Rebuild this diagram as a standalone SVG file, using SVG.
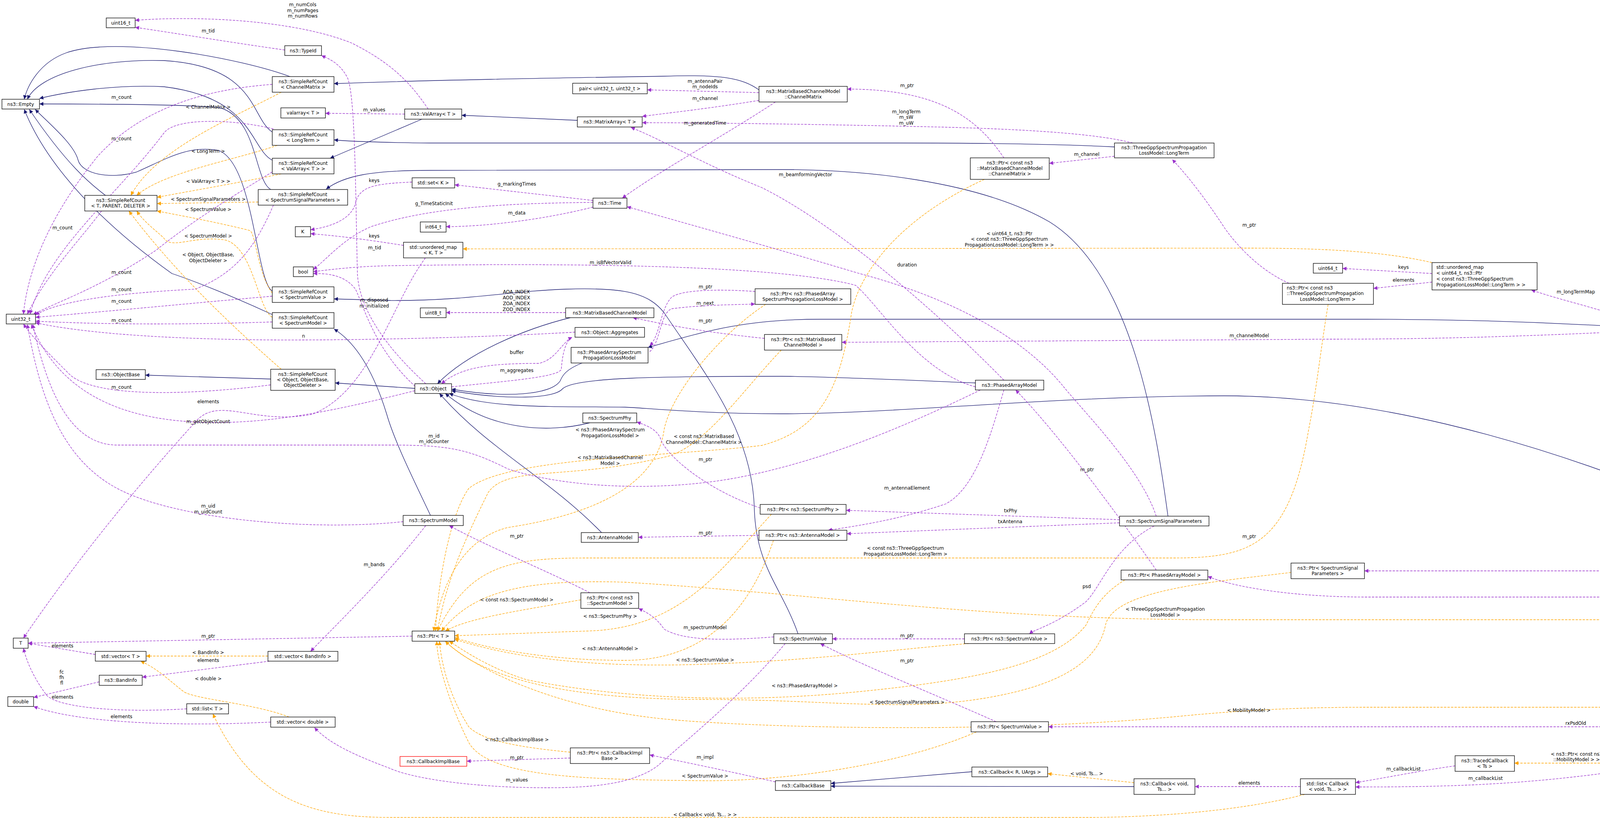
<svg xmlns="http://www.w3.org/2000/svg" width="5400" height="2096" viewBox="0 0 5400 2096">
<style>
.n rect{fill:#fff;stroke:#000;stroke-width:1.3}
text{font-family:"DejaVu Sans","Liberation Sans",sans-serif;font-size:12px;fill:#000}
.n text{text-anchor:middle}
.l{text-anchor:middle}
.e path{fill:none;stroke-width:1.3}
.i{stroke:#191970}
.u{stroke:#9a32cd;stroke-dasharray:6,3}
.t{stroke:#ffa500;stroke-dasharray:6,3}
</style>
<defs>
<marker id="ai" viewBox="0 0 10 10" refX="10" refY="5" markerWidth="12" markerHeight="10" markerUnits="userSpaceOnUse" orient="auto"><path d="M0,0L10,5L0,10z" fill="#191970"/></marker>
<marker id="au" viewBox="0 0 10 10" refX="10" refY="5" markerWidth="12" markerHeight="10" markerUnits="userSpaceOnUse" orient="auto"><path d="M0,0L10,5L0,10z" fill="#9a32cd"/></marker>
<marker id="at" viewBox="0 0 10 10" refX="10" refY="5" markerWidth="12" markerHeight="10" markerUnits="userSpaceOnUse" orient="auto"><path d="M0,0L10,5L0,10z" fill="#ffa500"/></marker>
</defs>
<rect width="5400" height="2096" fill="#fff"/>
<g class="e" id="edges">
<g class="i" marker-end="url(#ai)">
<path d="M745,197 C620,150 300,90 170,135 C100,160 70,220 62,254"/>
<path d="M697,338 C640,300 660,170 420,155 C250,150 100,190 70,254"/>
<path d="M697,410 C640,380 650,250 420,222 C300,215 170,235 101,252"/>
<path d="M693,485 C650,460 660,300 560,275 C450,266 200,266 101,266"/>
<path d="M697,745 C655,720 650,420 560,385 C480,370 420,410 350,440 C280,460 210,445 200,410 C190,370 130,320 90,280"/>
<path d="M697,805 C600,760 500,720 440,700 C300,600 130,450 62,280"/>
<path d="M270,500 C230,470 170,420 75,280"/>
<path d="M693,970 L372,960"/>
<path d="M1943,230 C1900,200 1850,190 1700,195 C1400,200 1100,205 855,214"/>
<path d="M2853,376 C2700,368 2500,366 2300,366 L1100,366 C1000,365 900,362 855,358"/>
<path d="M1080,305 L845,405"/>
<path d="M1478,308 L1182,295"/>
<path d="M2990,1321 C2960,1100 2900,700 2687,568 C2500,460 2200,434 2000,434 L1100,436 C950,436 880,450 835,484"/>
<path d="M2043,1622 C2000,1500 1935,1450 1931,1300 C1925,1100 1800,950 1700,800 C1660,750 1600,735 1450,740 C1300,745 1200,770 1000,769 L855,765"/>
<path d="M1102,1319 C1060,1230 1010,1130 990,1060 C950,930 900,870 855,842"/>
<path d="M1062,994 L858,980"/>
<path d="M1460,813 C1350,840 1200,900 1120,982"/>
<path d="M1490,929 C1450,945 1440,960 1434,975 C1410,1010 1300,1020 1156,996"/>
<path d="M1510,1082 C1400,1110 1250,1100 1140,1007"/>
<path d="M1540,1363 C1400,1220 1250,1150 1125,1007"/>
<path d="M2497,980 C2300,972 2100,963 2000,963 C1700,963 1470,965 1440,995 C1420,1020 1300,1025 1156,1000"/>
<path d="M4687,1655 C4600,1400 4400,1300 4268,1268 C3900,1120 3500,1013 3134,1013 C2700,1013 2300,1059 2000,1059 C1800,1059 1650,1044 1600,1042 C1400,1040 1250,1045 1150,1007"/>
<path d="M4130,835 C3900,822 3700,817 3500,817 L2100,817 C1900,817 1800,850 1659,889"/>
<path d="M2488,1975 L2127,2005"/>
<path d="M2903,2013 L2127,2012"/>
</g>
<g class="t" marker-end="url(#at)">
<path d="M720,236 C600,300 400,380 335,500"/>
<path d="M710,372 C600,410 420,440 350,500"/>
<path d="M720,445 C600,470 480,490 402,505"/>
<path d="M661,517 L402,521"/>
<path d="M697,750 C660,700 655,600 640,590 C560,570 480,555 402,540"/>
<path d="M697,812 C660,790 650,640 580,615 C500,600 440,640 420,610 C400,590 370,570 350,540"/>
<path d="M720,945 C600,840 450,700 330,540"/>
<path d="M686,1679 L374,1679"/>
<path d="M740,1835 C650,1800 500,1790 470,1770 C420,1730 400,1710 360,1692"/>
<path d="M3340,2033 C3200,2070 3000,2090 2800,2092 L1000,2092 C800,2092 650,2050 545,1827"/>
<path d="M2903,2003 L2682,1980"/>
<path d="M4177,1953 L3877,1953"/>
<path d="M3666,672 C3550,645 3400,635 3200,635 L1185,637"/>
<path d="M1960,779 C1850,850 1720,1000 1700,1100 C1680,1250 1500,1320 1300,1350 C1180,1380 1130,1500 1110,1615"/>
<path d="M2520,459 C2300,560 2200,700 2180,800 C2150,1000 2100,1100 1950,1140 C1700,1170 1300,1170 1200,1250 C1150,1320 1120,1500 1115,1615"/>
<path d="M2000,896 C1900,1000 1800,1150 1700,1170 C1450,1230 1300,1190 1250,1260 C1180,1400 1140,1500 1120,1615"/>
<path d="M1487,1535 C1350,1560 1200,1580 1140,1615"/>
<path d="M1975,1316 C1850,1450 1750,1610 1500,1615 L1164,1627"/>
<path d="M1980,1383 C1940,1500 1850,1690 1600,1690 C1400,1690 1250,1660 1164,1632"/>
<path d="M2480,1647 C2300,1660 2100,1690 1800,1700 C1500,1710 1300,1680 1164,1636"/>
<path d="M2880,1484 C2820,1520 2800,1560 2780,1600 C2700,1700 2500,1740 2200,1770 C1800,1810 1500,1770 1350,1740 C1250,1710 1180,1660 1150,1641"/>
<path d="M3305,1465 C3100,1490 2850,1510 2830,1600 C2810,1700 2700,1760 2500,1790 C2300,1820 2100,1790 1800,1790 C1500,1790 1250,1750 1140,1641"/>
<path d="M3400,779 C3380,900 3370,1000 3350,1100 C3300,1400 3200,1428 3000,1428 L1500,1428 C1300,1428 1200,1450 1120,1615"/>
<path d="M4586,1385 C4420,1400 4400,1500 4380,1550 C4300,1590 4200,1586 4100,1586 L3100,1586 C2500,1585 2100,1520 1600,1490 C1300,1480 1200,1530 1130,1615"/>
<path d="M2500,1873 C2300,1960 2000,2000 1800,1998 C1500,1995 1250,1990 1200,1900 C1150,1800 1120,1700 1118,1641"/>
<path d="M4960,1680 C4850,1780 4700,1810 4500,1810 L3500,1810 C3300,1810 3150,1820 3000,1835 C2500,1880 1900,1860 1700,1840 C1400,1810 1200,1700 1140,1641"/>
<path d="M1460,1925 C1300,1910 1230,1890 1200,1860 C1150,1780 1130,1700 1125,1641"/>
</g>
<g class="u" marker-end="url(#au)">
<path d="M729,128 C600,110 450,85 346,70"/>
<path d="M1096,279 C1050,210 1000,160 900,110 C750,50 500,40 346,52"/>
<path d="M1036,292 L833,290"/>
<path d="M697,216 C500,230 350,290 250,400 C120,560 70,700 60,804"/>
<path d="M700,330 C600,305 450,300 420,340 C300,500 120,640 77,804"/>
<path d="M697,440 C600,500 500,560 400,640 C250,740 150,770 85,805"/>
<path d="M700,525 C650,640 600,700 500,740 C300,750 150,770 91,806"/>
<path d="M697,758 C500,775 300,795 91,812"/>
<path d="M697,824 C500,830 300,832 91,822"/>
<path d="M260,540 C200,620 120,700 70,804"/>
<path d="M693,985 C500,1010 250,1020 180,960 C120,900 80,860 60,829"/>
<path d="M1472,850 C1300,860 1000,871 700,870 C400,868 200,850 91,826"/>
<path d="M1156,990 C1300,975 1430,965 1437,945 C1440,900 1450,870 1465,863"/>
<path d="M1462,863 C1430,890 1420,920 1380,930 C1250,930 1180,940 1130,982"/>
<path d="M1448,800 L1142,800"/>
<path d="M1663,900 C1690,880 1690,800 1720,790 C1800,780 1880,780 1933,778"/>
<path d="M1933,746 C1850,740 1750,740 1720,760 C1690,790 1690,860 1663,885"/>
<path d="M1957,866 C1800,850 1700,830 1620,813"/>
<path d="M4130,850 C3800,865 3600,868 3400,868 L2155,876"/>
<path d="M1090,982 C1000,900 920,800 915,700 C910,500 910,250 890,200 C870,160 840,150 823,142"/>
<path d="M1070,995 C960,900 930,780 910,740 C880,700 830,700 802,700"/>
<path d="M1518,518 C1300,520 1100,530 950,580 C880,610 840,660 802,690"/>
<path d="M1518,513 L1164,473"/>
<path d="M1518,530 C1400,560 1250,580 1142,580"/>
<path d="M1055,466 C950,470 920,480 910,520 C900,560 850,580 795,588"/>
<path d="M1033,628 C950,615 880,605 795,598"/>
<path d="M1089,660 C1000,780 950,1000 800,1060 C650,1090 560,1010 500,1080 C300,1300 150,1500 60,1633"/>
<path d="M1062,1000 C900,1040 700,1090 500,1080 C300,1070 150,1000 80,830"/>
<path d="M2510,998 C2300,1100 2100,1180 1900,1220 C1700,1260 1450,1250 1300,1200 C1200,1150 1150,1139 1000,1139 L300,1139 C180,1139 120,1000 84,830"/>
<path d="M1032,1335 C800,1360 450,1330 300,1250 C150,1170 100,1000 70,830"/>
<path d="M1090,1345 C1000,1460 900,1560 795,1667"/>
<path d="M244,1675 L72,1646"/>
<path d="M478,1814 C300,1825 150,1810 120,1780 C90,1740 70,1700 60,1659"/>
<path d="M690,1692 L364,1733"/>
<path d="M254,1745 L86,1785"/>
<path d="M693,1848 C450,1860 200,1850 86,1808"/>
<path d="M1055,1628 L72,1646"/>
<path d="M2010,1647 C1900,1780 1750,1900 1686,1958 C1620,2010 1500,2016 1400,2016 C1200,2016 1050,1990 1000,1967 C900,1930 840,1900 805,1862"/>
<path d="M1981,1630 C1850,1640 1750,1640 1700,1610 C1680,1580 1660,1570 1635,1557"/>
<path d="M1510,1517 C1400,1460 1250,1400 1150,1345"/>
<path d="M1946,1300 C1800,1250 1700,1160 1690,1120 C1680,1100 1660,1090 1630,1080"/>
<path d="M1943,1370 L1634,1375"/>
<path d="M2570,998 C2540,1100 2500,1250 2420,1290 C2300,1330 2200,1345 2120,1357"/>
<path d="M2866,1330 L2166,1306"/>
<path d="M2866,1338 L2168,1366"/>
<path d="M2955,1346 C2850,1400 2820,1500 2780,1540 C2700,1600 2650,1610 2635,1622"/>
<path d="M2469,1635 L2131,1635"/>
<path d="M2550,1847 C2400,1780 2200,1700 2100,1647"/>
<path d="M2960,1321 C2920,1200 2780,1060 2723,990 C2650,900 2500,780 2200,700 C2000,640 1750,570 1605,529"/>
<path d="M1985,261 C1850,350 1700,430 1593,507"/>
<path d="M1943,237 L1657,230"/>
<path d="M1943,257 C1800,280 1700,290 1644,298"/>
<path d="M2900,366 C2800,340 2600,330 2400,325 C2100,318 1800,314 1644,314"/>
<path d="M2570,404 C2500,300 2400,228 2169,228"/>
<path d="M2853,400 L2686,418"/>
<path d="M2570,973 C2400,800 2150,580 1950,480 C1800,420 1700,360 1615,326"/>
<path d="M2497,990 C2350,950 2250,780 2190,730 C2000,680 1500,672 1000,680 C900,682 850,690 802,695"/>
<path d="M2960,1459 C2850,1300 2700,1100 2600,998"/>
<path d="M3666,700 L3437,687"/>
<path d="M3666,722 L3516,738"/>
<path d="M4180,823 C4100,790 4000,770 3920,742"/>
<path d="M3300,725 C3220,690 3160,620 3134,582 C3080,500 3040,450 3001,408"/>
<path d="M4675,1374 C4600,1250 4350,950 4280,863"/>
<path d="M5270,1515 C5180,1440 5000,1410 4797,1397"/>
<path d="M5240,1515 C5100,1480 5000,1461 4900,1461 L3493,1461"/>
<path d="M5174,1528 L3500,1528 C3300,1528 3150,1500 3092,1475"/>
<path d="M5250,1541 L5020,1655"/>
<path d="M5280,1541 C5200,1700 5150,1860 5000,1860 L2684,1860"/>
<path d="M4887,1668 L4763,1668"/>
<path d="M4665,1680 C4550,1780 4400,1850 4300,1926"/>
<path d="M3725,1960 C3650,1970 3550,1990 3470,2003"/>
<path d="M4177,1969 C3900,2010 3700,2014 3470,2014"/>
<path d="M3329,2013 L3059,2013"/>
<path d="M1985,2001 C1850,1970 1750,1950 1663,1932"/>
<path d="M1460,1940 L1195,1948"/>
</g>
<g>
<text class="l" x="775" y="16">m_numCols</text><text class="l" x="775" y="31">m_numPages</text><text class="l" x="775" y="45">m_numRows</text>
<text class="l" x="533" y="83">m_tid</text>
<text class="l" x="311" y="253">m_count</text>
<text class="l" x="533" y="278">&lt; ChannelMatrix &gt;</text>
<text class="l" x="958" y="285">m_values</text>
<text class="l" x="311" y="359">m_count</text>
<text class="l" x="533" y="391">&lt; LongTerm &gt;</text>
<text class="l" x="533" y="468">&lt; ValArray&lt; T &gt; &gt;</text>
<text class="l" x="958" y="466">keys</text>
<text class="l" x="533" y="514">&lt; SpectrumSignalParameters &gt;</text>
<text class="l" x="533" y="540">&lt; SpectrumValue &gt;</text>
<text class="l" x="160" y="587">m_count</text>
<text class="l" x="533" y="608">&lt; SpectrumModel &gt;</text>
<text class="l" x="958" y="608">keys</text>
<text class="l" x="959" y="638">m_tid</text>
<text class="l" x="533" y="656">&lt; Object, ObjectBase,</text><text class="l" x="533" y="671">ObjectDeleter &gt;</text>
<text class="l" x="311" y="701">m_count</text>
<text class="l" x="311" y="745">m_count</text>
<text class="l" x="958" y="772">m_disposed</text><text class="l" x="958" y="787">m_initialized</text>
<text class="l" x="311" y="775">m_count</text>
<text class="l" x="311" y="824">m_count</text>
<text class="l" x="777" y="864">n</text>
<text class="l" x="311" y="995">m_count</text>
<text class="l" x="533" y="1032">elements</text>
<text class="l" x="533" y="1083">m_getObjectCount</text>
<text class="l" x="533" y="1299">m_uid</text><text class="l" x="533" y="1314">m_uidCount</text>
<text class="l" x="958" y="1449">m_bands</text>
<text class="l" x="533" y="1632">m_ptr</text>
<text class="l" x="160" y="1657">elements</text>
<text class="l" x="533" y="1674">&lt; BandInfo &gt;</text>
<text class="l" x="533" y="1694">elements</text>
<text class="l" x="158" y="1724">fc</text><text class="l" x="158" y="1738">fh</text><text class="l" x="158" y="1752">fl</text>
<text class="l" x="533" y="1741">&lt; double &gt;</text>
<text class="l" x="160" y="1788">elements</text>
<text class="l" x="311" y="1838">elements</text>
<text class="l" x="1805" y="212">m_antennaPair</text><text class="l" x="1805" y="226">m_nodeIds</text>
<text class="l" x="1805" y="256">m_channel</text>
<text class="l" x="1805" y="319">m_generatedTime</text>
<text class="l" x="1323" y="475">g_markingTimes</text>
<text class="l" x="1111" y="525">g_TimeStaticInit</text>
<text class="l" x="1323" y="549">m_data</text>
<text class="l" x="1563" y="676">m_isBfVectorValid</text>
<text class="l" x="2062" y="451">m_beamformingVector</text>
<text class="l" x="1322" y="751">AOA_INDEX</text><text class="l" x="1322" y="766">AOD_INDEX</text><text class="l" x="1322" y="781">ZOA_INDEX</text><text class="l" x="1322" y="796">ZOD_INDEX</text>
<text class="l" x="1806" y="738">m_ptr</text>
<text class="l" x="1805" y="780">m_next</text>
<text class="l" x="1806" y="825">m_ptr</text>
<text class="l" x="1323" y="906">buffer</text>
<text class="l" x="1323" y="952">m_aggregates</text>
<text class="l" x="1562" y="1104">&lt; ns3::PhasedArraySpectrum</text><text class="l" x="1562" y="1119">PropagationLossModel &gt;</text>
<text class="l" x="1802" y="1121">&lt; const ns3::MatrixBased</text><text class="l" x="1802" y="1136">ChannelModel::ChannelMatrix &gt;</text>
<text class="l" x="1111" y="1120">m_id</text><text class="l" x="1111" y="1134">m_idCounter</text>
<text class="l" x="1562" y="1175">&lt; ns3::MatrixBasedChannel</text><text class="l" x="1562" y="1190">Model &gt;</text>
<text class="l" x="1806" y="1180">m_ptr</text>
<text class="l" x="1323" y="1376">m_ptr</text>
<text class="l" x="1806" y="1368">m_ptr</text>
<text class="l" x="1323" y="1539">&lt; const ns3::SpectrumModel &gt;</text>
<text class="l" x="1562" y="1581">&lt; ns3::SpectrumPhy &gt;</text>
<text class="l" x="1805" y="1610">m_spectrumModel</text>
<text class="l" x="1562" y="1664">&lt; ns3::AntennaModel &gt;</text>
<text class="l" x="1805" y="1693">&lt; ns3::SpectrumValue &gt;</text>
<text class="l" x="1323" y="1897">&lt; ns3::CallbackImplBase &gt;</text>
<text class="l" x="1323" y="1943">m_ptr</text>
<text class="l" x="1805" y="1942">m_impl</text>
<text class="l" x="1323" y="2000">m_values</text>
<text class="l" x="1805" y="1990">&lt; SpectrumValue &gt;</text>
<text class="l" x="1805" y="2089">&lt; Callback&lt; void, Ts... &gt; &gt;</text>
<text class="l" x="2322" y="223">m_ptr</text>
<text class="l" x="2320" y="290">m_longTerm</text><text class="l" x="2320" y="304">m_sW</text><text class="l" x="2320" y="319">m_uW</text>
<text class="l" x="2782" y="399">m_channel</text>
<text class="l" x="2584" y="602">&lt; uint64_t, ns3::Ptr</text><text class="l" x="2584" y="616">&lt; const ns3::ThreeGppSpectrum</text><text class="l" x="2584" y="631">PropagationLossModel::LongTerm &gt; &gt;</text>
<text class="l" x="2322" y="682">duration</text>
<text class="l" x="2783" y="1206">m_ptr</text>
<text class="l" x="2322" y="1253">m_antennaElement</text>
<text class="l" x="2587" y="1311">txPhy</text>
<text class="l" x="2586" y="1339">txAntenna</text>
<text class="l" x="2318" y="1407">&lt; const ns3::ThreeGppSpectrum</text><text class="l" x="2318" y="1422">PropagationLossModel::LongTerm &gt;</text>
<text class="l" x="2782" y="1505">psd</text>
<text class="l" x="2983" y="1563">&lt; ThreeGppSpectrumPropagation</text><text class="l" x="2983" y="1578">LossModel &gt;</text>
<text class="l" x="2322" y="1631">m_ptr</text>
<text class="l" x="2322" y="1695">m_ptr</text>
<text class="l" x="2060" y="1759">&lt; ns3::PhasedArrayModel &gt;</text>
<text class="l" x="2322" y="1801">&lt; SpectrumSignalParameters &gt;</text>
<text class="l" x="2782" y="1984">&lt; void, Ts... &gt;</text>
<text class="l" x="3198" y="580">m_ptr</text>
<text class="l" x="3593" y="688">keys</text>
<text class="l" x="3593" y="721">elements</text>
<text class="l" x="4034" y="751">m_longTermMap</text>
<text class="l" x="3198" y="863">m_channelModel</text>
<text class="l" x="3198" y="1377">m_ptr</text>
<text class="l" x="4260" y="1509">rxAntenna</text><text class="l" x="4260" y="1523">txAntenna</text>
<text class="l" x="3197" y="1822">&lt; MobilityModel &gt;</text>
<text class="l" x="4034" y="1855">rxPsdOld</text>
<text class="l" x="4036" y="1934">&lt; ns3::Ptr&lt; const ns3</text><text class="l" x="4036" y="1948">::MobilityModel &gt; &gt;</text>
<text class="l" x="3593" y="1972">m_callbackList</text>
<text class="l" x="3803" y="1996">m_callbackList</text>
<text class="l" x="3198" y="2008">elements</text>
<text class="l" x="4488" y="1032">m_ptr</text>
<text class="l" x="4985" y="1390">lossModel</text>
<text class="l" x="4488" y="1456">txParams</text>
<text class="l" x="5127" y="1574">rxMob</text><text class="l" x="5127" y="1588">txMob</text>
<text class="l" x="4844" y="1664">m_ptr</text>
<text class="l" x="4488" y="1756">m_courseChangeTrace</text>
</g>
</g>
<g class="n" id="n_uint16"><rect x="272" y="46" width="74" height="25"/><text x="309" y="63">uint16_t</text></g>
<g class="n" id="n_typeid"><rect x="729" y="117" width="94" height="25"/><text x="776" y="134">ns3::TypeId</text></g>
<g class="n" id="n_srcCM"><rect x="697" y="196" width="158" height="40"/><text x="776" y="213">ns3::SimpleRefCount</text><text x="776" y="227">&lt; ChannelMatrix &gt;</text></g>
<g class="n" id="n_valarray"><rect x="719" y="276" width="114" height="26"/><text x="776" y="293">valarray&lt; T &gt;</text></g>
<g class="n" id="n_srcLT"><rect x="697" y="332" width="158" height="40"/><text x="776" y="349">ns3::SimpleRefCount</text><text x="776" y="363">&lt; LongTerm &gt;</text></g>
<g class="n" id="n_srcVA"><rect x="697" y="405" width="158" height="40"/><text x="776" y="422">ns3::SimpleRefCount</text><text x="776" y="436">&lt; ValArray&lt; T &gt; &gt;</text></g>
<g class="n" id="n_srcSSP"><rect x="661" y="485" width="229" height="40"/><text x="775" y="502">ns3::SimpleRefCount</text><text x="775" y="516">&lt; SpectrumSignalParameters &gt;</text></g>
<g class="n" id="n_empty"><rect x="5" y="254" width="96" height="25"/><text x="53" y="271">ns3::Empty</text></g>
<g class="n" id="n_srcT"><rect x="217" y="500" width="185" height="40"/><text x="309" y="517">ns3::SimpleRefCount</text><text x="309" y="531">&lt; T, PARENT, DELETER &gt;</text></g>
<g class="n" id="n_K"><rect x="756" y="580" width="39" height="26"/><text x="775" y="597">K</text></g>
<g class="n" id="n_bool"><rect x="751" y="683" width="51" height="25"/><text x="776" y="700">bool</text></g>
<g class="n" id="n_srcSV"><rect x="697" y="734" width="158" height="40"/><text x="776" y="751">ns3::SimpleRefCount</text><text x="776" y="765">&lt; SpectrumValue &gt;</text></g>
<g class="n" id="n_srcSM"><rect x="697" y="800" width="158" height="40"/><text x="776" y="817">ns3::SimpleRefCount</text><text x="776" y="831">&lt; SpectrumModel &gt;</text></g>
<g class="n" id="n_uint32"><rect x="16" y="804" width="75" height="25"/><text x="53" y="821">uint32_t</text></g>
<g class="n" id="n_objbase"><rect x="246" y="946" width="126" height="25"/><text x="309" y="963">ns3::ObjectBase</text></g>
<g class="n" id="n_srcObj"><rect x="693" y="945" width="165" height="54"/><text x="775" y="962">ns3::SimpleRefCount</text><text x="775" y="976">&lt; Object, ObjectBase,</text><text x="775" y="990">ObjectDeleter &gt;</text></g>
<g class="n" id="n_T"><rect x="34" y="1633" width="38" height="26"/><text x="53" y="1650">T</text></g>
<g class="n" id="n_vecT"><rect x="244" y="1667" width="130" height="25"/><text x="309" y="1684">std::vector&lt; T &gt;</text></g>
<g class="n" id="n_vecBI"><rect x="686" y="1667" width="179" height="25"/><text x="775" y="1684">std::vector&lt; BandInfo &gt;</text></g>
<g class="n" id="n_bandinfo"><rect x="254" y="1728" width="110" height="26"/><text x="309" y="1745">ns3::BandInfo</text></g>
<g class="n" id="n_double"><rect x="20" y="1783" width="66" height="25"/><text x="53" y="1800">double</text></g>
<g class="n" id="n_listT"><rect x="478" y="1801" width="107" height="26"/><text x="531" y="1818">std::list&lt; T &gt;</text></g>
<g class="n" id="n_vecD"><rect x="693" y="1835" width="165" height="26"/><text x="775" y="1852">std::vector&lt; double &gt;</text></g>
<g class="n" id="n_pair"><rect x="1466" y="213" width="191" height="27"/><text x="1561" y="231">pair&lt; uint32_t, uint32_t &gt;</text></g>
<g class="n" id="n_ValArray"><rect x="1036" y="279" width="146" height="26"/><text x="1109" y="296">ns3::ValArray&lt; T &gt;</text></g>
<g class="n" id="n_MatrixArray"><rect x="1478" y="299" width="166" height="26"/><text x="1561" y="316">ns3::MatrixArray&lt; T &gt;</text></g>
<g class="n" id="n_CM"><rect x="1943" y="221" width="226" height="40"/><text x="2056" y="238">ns3::MatrixBasedChannelModel</text><text x="2056" y="252">::ChannelMatrix</text></g>
<g class="n" id="n_setK"><rect x="1055" y="455" width="109" height="26"/><text x="1109" y="472">std::set&lt; K &gt;</text></g>
<g class="n" id="n_Time"><rect x="1518" y="507" width="87" height="26"/><text x="1561" y="524">ns3::Time</text></g>
<g class="n" id="n_int64"><rect x="1076" y="568" width="66" height="26"/><text x="1109" y="585">int64_t</text></g>
<g class="n" id="n_umapKT"><rect x="1033" y="620" width="152" height="40"/><text x="1109" y="637">std::unordered_map</text><text x="1109" y="651">&lt; K, T &gt;</text></g>
<g class="n" id="n_uint8"><rect x="1076" y="788" width="66" height="25"/><text x="1109" y="805">uint8_t</text></g>
<g class="n" id="n_MBCM"><rect x="1448" y="788" width="226" height="25"/><text x="1561" y="805">ns3::MatrixBasedChannelModel</text></g>
<g class="n" id="n_Aggr"><rect x="1472" y="838" width="178" height="25"/><text x="1561" y="855">ns3::Object::Aggregates</text></g>
<g class="n" id="n_PASPLM"><rect x="1462" y="889" width="197" height="40"/><text x="1560" y="906">ns3::PhasedArraySpectrum</text><text x="1560" y="920">PropagationLossModel</text></g>
<g class="n" id="n_Object"><rect x="1062" y="982" width="94" height="25"/><text x="1109" y="999">ns3::Object</text></g>
<g class="n" id="n_SpectrumPhy"><rect x="1492" y="1057" width="138" height="25"/><text x="1561" y="1074">ns3::SpectrumPhy</text></g>
<g class="n" id="n_SpectrumModel"><rect x="1032" y="1319" width="154" height="26"/><text x="1109" y="1336">ns3::SpectrumModel</text></g>
<g class="n" id="n_AntennaModel"><rect x="1488" y="1363" width="146" height="25"/><text x="1561" y="1380">ns3::AntennaModel</text></g>
<g class="n" id="n_PtrPASPLM"><rect x="1933" y="739" width="245" height="40"/><text x="2055" y="756">ns3::Ptr&lt; ns3::PhasedArray</text><text x="2055" y="770">SpectrumPropagationLossModel &gt;</text></g>
<g class="n" id="n_PtrMBCM"><rect x="1957" y="856" width="198" height="40"/><text x="2056" y="873">ns3::Ptr&lt; ns3::MatrixBased</text><text x="2056" y="887">ChannelModel &gt;</text></g>
<g class="n" id="n_PtrSpectrumPhy"><rect x="1946" y="1291" width="220" height="25"/><text x="2056" y="1308">ns3::Ptr&lt; ns3::SpectrumPhy &gt;</text></g>
<g class="n" id="n_PtrAntenna"><rect x="1943" y="1357" width="225" height="26"/><text x="2055" y="1374">ns3::Ptr&lt; ns3::AntennaModel &gt;</text></g>
<g class="n" id="n_PtrCSM"><rect x="1487" y="1517" width="148" height="40"/><text x="1561" y="1534">ns3::Ptr&lt; const ns3</text><text x="1561" y="1548">::SpectrumModel &gt;</text></g>
<g class="n" id="n_PtrT"><rect x="1055" y="1615" width="109" height="26"/><text x="1109" y="1632">ns3::Ptr&lt; T &gt;</text></g>
<g class="n" id="n_PtrCIB"><rect x="1460" y="1914" width="203" height="40"/><text x="1561" y="1931">ns3::Ptr&lt; ns3::CallbackImpl</text><text x="1561" y="1945">Base &gt;</text></g>
<g class="n" id="n_CIB"><rect x="1024" y="1936" width="171" height="25" style="stroke:#ff0000"/><text x="1109" y="1953">ns3::CallbackImplBase</text></g>
<g class="n" id="n_LongTerm"><rect x="2853" y="366" width="255" height="38"/><text x="2980" y="382">ns3::ThreeGppSpectrumPropagation</text><text x="2980" y="396">LossModel::LongTerm</text></g>
<g class="n" id="n_PtrCM"><rect x="2484" y="404" width="202" height="55"/><text x="2585" y="421">ns3::Ptr&lt; const ns3</text><text x="2585" y="435">::MatrixBasedChannelModel</text><text x="2585" y="449">::ChannelMatrix &gt;</text></g>
<g class="n" id="n_PAM"><rect x="2497" y="973" width="175" height="25"/><text x="2584" y="990">ns3::PhasedArrayModel</text></g>
<g class="n" id="n_SSP"><rect x="2866" y="1321" width="229" height="25"/><text x="2980" y="1338">ns3::SpectrumSignalParameters</text></g>
<g class="n" id="n_PtrPAM"><rect x="2870" y="1459" width="222" height="25"/><text x="2981" y="1476">ns3::Ptr&lt; PhasedArrayModel &gt;</text></g>
<g class="n" id="n_SV"><rect x="1981" y="1622" width="150" height="25"/><text x="2056" y="1639">ns3::SpectrumValue</text></g>
<g class="n" id="n_PtrNsSV"><rect x="2469" y="1622" width="231" height="25"/><text x="2584" y="1639">ns3::Ptr&lt; ns3::SpectrumValue &gt;</text></g>
<g class="n" id="n_PtrSV"><rect x="2486" y="1847" width="198" height="26"/><text x="2585" y="1864">ns3::Ptr&lt; SpectrumValue &gt;</text></g>
<g class="n" id="n_CbRU"><rect x="2488" y="1963" width="194" height="25"/><text x="2585" y="1980">ns3::Callback&lt; R, UArgs &gt;</text></g>
<g class="n" id="n_CbBase"><rect x="1985" y="1998" width="142" height="25"/><text x="2056" y="2015">ns3::CallbackBase</text></g>
<g class="n" id="n_CbVoid"><rect x="2903" y="1993" width="156" height="40"/><text x="2981" y="2010">ns3::Callback&lt; void,</text><text x="2981" y="2024">Ts... &gt;</text></g>
<g class="n" id="n_uint64"><rect x="3362" y="674" width="75" height="25"/><text x="3399" y="691">uint64_t</text></g>
<g class="n" id="n_umapLT"><rect x="3666" y="672" width="269" height="70"/><text x="3677" y="688" style="text-anchor:start">std::unordered_map</text><text x="3677" y="703" style="text-anchor:start">&lt; uint64_t, ns3::Ptr</text><text x="3677" y="718" style="text-anchor:start">&lt; const ns3::ThreeGppSpectrum</text><text x="3677" y="733" style="text-anchor:start">PropagationLossModel::LongTerm &gt; &gt;</text></g>
<g class="n" id="n_PtrCLT"><rect x="3283" y="725" width="233" height="54"/><text x="3294" y="741" style="text-anchor:start">ns3::Ptr&lt; const ns3</text><text x="3294" y="755" style="text-anchor:start">::ThreeGppSpectrumPropagation</text><text x="3399" y="770">LossModel::LongTerm &gt;</text></g>
<g class="n" id="n_ThreeGpp"><rect x="4130" y="823" width="256" height="40"/><text x="4258" y="840">ns3::ThreeGppSpectrumPropagation</text><text x="4258" y="854">LossModel</text></g>
<g class="n" id="n_PtrSSP"><rect x="3305" y="1441" width="188" height="40"/><text x="3399" y="1458">ns3::Ptr&lt; SpectrumSignal</text><text x="3399" y="1472">Parameters &gt;</text></g>
<g class="n" id="n_TCTs"><rect x="3725" y="1934" width="152" height="40"/><text x="3801" y="1951">ns3::TracedCallback</text><text x="3801" y="1965">&lt; Ts &gt;</text></g>
<g class="n" id="n_listCb"><rect x="3329" y="1993" width="141" height="40"/><text x="3399" y="2010">std::list&lt; Callback</text><text x="3399" y="2024">&lt; void, Ts... &gt; &gt;</text></g>
<g class="n" id="n_TCMob"><rect x="4177" y="1926" width="162" height="54"/><text x="4258" y="1943">ns3::TracedCallback</text><text x="4258" y="1957">&lt; ns3::Ptr&lt; const ns3</text><text x="4258" y="1971">::MobilityModel &gt; &gt;</text></g>
<g class="n" id="n_PtrTG"><rect x="4586" y="1374" width="211" height="40"/><text x="4691" y="1391">ns3::Ptr&lt; ThreeGppSpectrum</text><text x="4691" y="1405">PropagationLossModel &gt;</text></g>
<g class="n" id="n_Check"><rect x="5174" y="1515" width="220" height="26" style="fill:#bfbfbf"/><text x="5284" y="1532">CheckLongTermUpdateParams</text></g>
<g class="n" id="n_Mob"><rect x="4620" y="1655" width="143" height="25"/><text x="4691" y="1672">ns3::MobilityModel</text></g>
<g class="n" id="n_PtrMob"><rect x="4887" y="1655" width="193" height="25"/><text x="4983" y="1672">ns3::Ptr&lt; MobilityModel &gt;</text></g>
</svg>
